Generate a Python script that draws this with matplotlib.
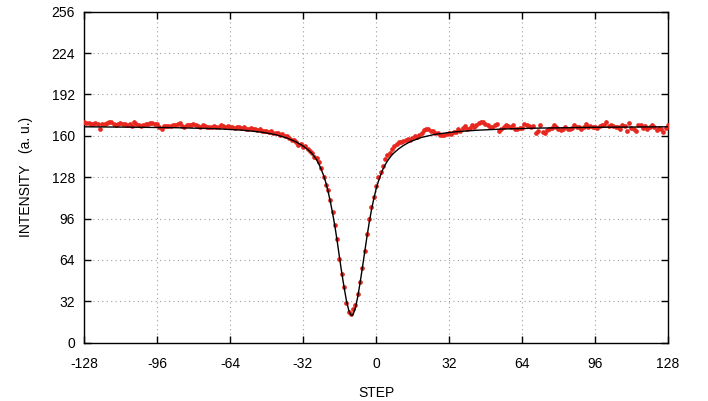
import numpy as np
import matplotlib.pyplot as plt

plt.rcParams['font.family'] = ['Liberation Sans', 'DejaVu Sans']
plt.rcParams['axes.unicode_minus'] = False

# measured points, one per step from -128 to 128
step = np.arange(-128, 129)

intensity = [
    # -128 .. -69
    171, 170, 170, 169.5, 169, 170, 169, 165.5, 169, 169.5,
    170, 170.5, 171, 169, 168.5, 169.5, 170, 169, 169, 168.5,
    169, 167.5, 171, 169, 168.5, 167.5, 168.5, 169, 169.5, 170,
    170, 169, 169.5, 167, 165.5, 167.5, 167.5, 167.5, 167.5, 168,
    168.5, 169, 170, 167.5, 166.5, 168.5, 168, 168.5, 169, 168,
    167.5, 167, 168, 167.5, 167, 167, 166.5, 167.5, 167, 166.5,
    # -68 .. -41
    168, 167.5, 167, 167.5, 166.5, 167, 166, 167, 166.5, 166,
    166.5, 165.5, 165.5, 166, 165, 165, 164.5, 165, 164, 163.5,
    164, 163, 163.5, 162.5, 162, 162, 161, 161.5,
    # -40 .. -25
    160, 160, 158, 157, 157, 155, 153, 154, 151, 152,
    150, 148, 147, 144, 143, 140,
    # -24 .. 10
    135, 128, 122, 118, 110, 101, 91, 80, 65, 53,
    43, 31, 23.5, 22, 26, 29, 38, 47, 58, 71,
    84, 96, 105, 113, 121, 128, 132, 137, 142, 145,
    147, 150, 152, 154, 155,
    # 11 .. 63
    155, 156, 156.5, 157.5, 157, 158.5, 159.5, 159, 160.5, 162,
    164.5, 165.5, 165, 164, 163.5, 162.5, 162, 161, 160.5, 161,
    161.5, 162, 161.5, 163, 163, 165.5, 164, 166, 167.5, 165.5,
    166, 168, 167, 168.5, 170, 171, 171, 169, 168, 167,
    166.5, 168.5, 169, 164, 165, 166.5, 168, 167.5, 167, 168,
    165.5, 165, 166,
    # 64 .. 128
    166, 169, 168, 167.5, 167, 167.5, 162, 164, 168, 163,
    162.5, 164.5, 165, 166, 168.5, 167, 165.5, 164.5, 165, 166.5,
    165, 165, 166, 168.5, 166.5, 166.5, 165, 167, 169, 167,
    167.5, 166.5, 167, 166, 167.5, 168, 168.5, 171, 167.5, 168,
    167.5, 166.5, 167, 165, 168, 167.5, 163.5, 170, 166, 165,
    164, 168.5, 168, 166, 167.5, 165, 166.5, 168, 167, 164.5,
    166, 165, 163, 166, 168,
]

# fitted curve
fit_step = [-128, -108, -88, -70, -58, -50, -44, -39, -35, -32,
            -30, -28, -27, -26, -25, -24, -23, -22, -21, -20,
            -19, -18, -17, -16, -15, -14, -13, -12, -11.5, -11,
            -10.5, -10, -9, -8, -7, -6, -5, -4, -3, -2,
            -1, 0, 1, 2, 3, 4, 5, 6, 7, 8,
            10, 12, 15, 20, 26, 34, 44, 56, 72, 96, 128]
fit_intensity = [167, 166.7, 166.3, 165.5, 164.3, 162.8, 160.9, 158.3, 155.3, 152.2,
                 149.5, 146.2, 144, 141.3, 138, 134, 129.5, 124, 117, 109,
                 100, 90, 78.5, 66, 54, 43, 33, 25.5, 23, 21.5,
                 21, 22, 27, 35.5, 46, 57.5, 69.5, 81.5, 92.5, 102.5,
                 111, 118.5, 124.5, 129.5, 134, 137.5, 140.5, 143, 145.2, 147,
                 150, 152.5, 155.5, 158.8, 161.2, 163, 164.3, 165.3, 166, 166.6, 167]

xticks = [-128, -96, -64, -32, 0, 32, 64, 96, 128]
yticks = [0, 32, 64, 96, 128, 160, 192, 224, 256]

fig = plt.figure(figsize=(7.08, 4.01), dpi=100)
ax = fig.add_axes([0.1186, 0.1454, 0.8249, 0.8254])

ax.plot(step, intensity, 'o', color='#e8281e', ms=3.4, mew=0, zorder=3)
ax.plot(fit_step, fit_intensity, '-', color='black', lw=1.0, zorder=4)

ax.set_xlim(-128, 128)
ax.set_ylim(0, 256)
ax.set_xticks(xticks)
ax.set_yticks(yticks)
ax.grid(True, linestyle=(0, (1, 3)), color='#a0a0a0', lw=0.8)
ax.tick_params(direction='in', length=5, width=1, top=True, right=True,
               labelsize=10)
ax.tick_params(axis='x', pad=10)
ax.tick_params(axis='y', pad=6.5)
for s in ax.spines.values():
    s.set_linewidth(1.0)

ax.set_xlabel('STEP', fontsize=10, labelpad=11)
ax.set_ylabel('INTENSITY   (a. u.)', fontsize=10, labelpad=13)

fig.savefig('out.png', dpi=100)
